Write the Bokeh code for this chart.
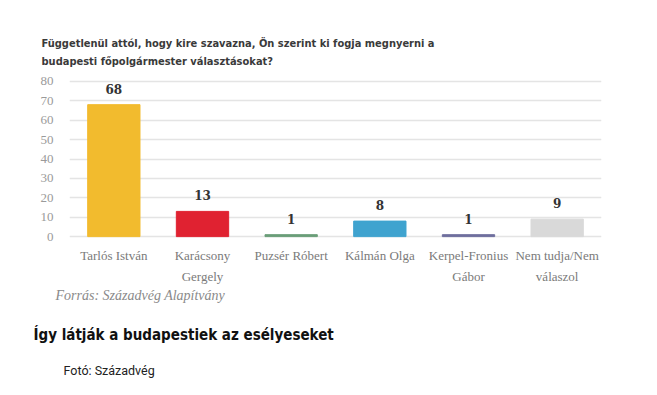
from bokeh.plotting import figure
from bokeh.models import ColumnDataSource, Range1d, FactorRange, Title
from bokeh.core.properties import value
from bokeh.embed import file_html
from bokeh.resources import INLINE

categories = ["Tarlós István", "Karácsony\nGergely", "Puzsér Róbert", "Kálmán Olga",
              "Kerpel-Fronius\nGábor", "Nem tudja/Nem\nválaszol"]
values = [68, 13, 1, 8, 1, 9]
colors = ["#F2BB2E", "#E02231", "#6A9E78", "#3FA3CF", "#6E6E9E", "#D9D9D9"]
y_ticks = [0, 10, 20, 30, 40, 50, 60, 70, 80]

title_line1 = "Függetlenül attól, hogy kire szavazna, Ön szerint ki fogja megnyerni a"
title_line2 = "budapesti főpolgármester választásokat?"
source_text = "Forrás: Századvég Alapítvány"
caption = "Így látják a budapestiek az esélyeseket"
photo = "Fotó: Századvég"

src = ColumnDataSource(dict(cat=categories, val=values, color=colors,
                            label=[str(v) for v in values]))

p = figure(x_range=FactorRange(*categories), y_range=Range1d(-2, 82),
           frame_width=532, frame_height=163,
           output_backend="svg", toolbar_location=None,
           min_border_left=69, min_border_right=40, min_border_top=77,
           min_border_bottom=139)
p.outline_line_color = None
p.background_fill_color = "white"
p.border_fill_color = "white"

p.vbar(x="cat", top="val", bottom=0, width=0.59, color="color", source=src)
p.text(x="cat", y="val", text="label", source=src, y_offset=-16,
       text_align="center", text_baseline="middle",
       text_font=value("DejaVu Serif"), text_font_style="bold",
       text_font_size="12px", text_color="#333333")

p.xgrid.grid_line_color = None
p.ygrid.grid_line_color = "#e4e4e4"
p.ygrid.grid_line_width = 1.5

p.yaxis.ticker = y_ticks
p.yaxis.axis_line_color = None
p.yaxis.major_tick_line_color = None
p.yaxis.minor_tick_line_color = None
p.yaxis.major_tick_out = 0
p.yaxis.major_label_standoff = 16
p.yaxis.major_label_text_font = "Liberation Serif"
p.yaxis.major_label_text_font_size = "13px"
p.yaxis.major_label_text_color = "#9a9a9a"

p.xaxis.axis_line_color = None
p.xaxis.major_tick_line_color = None
p.xaxis.major_tick_out = 0
p.xaxis.major_label_standoff = 7
p.xaxis.major_label_text_font = "Liberation Serif"
p.xaxis.major_label_text_font_size = "13px"
p.xaxis.major_label_text_color = "#7a7a7a"
p.xaxis.major_label_text_line_height = 1.45

cond = "Liberation Sans Narrow, DejaVu Sans Condensed, sans-serif"
p.add_layout(Title(text=title_line1 + "\n" + title_line2, align="left", offset=-28,
                   standoff=18, text_line_height=1.45,
                   text_font=cond, text_font_style="bold", text_font_size="11px",
                   text_color="#3a3a3a"), "above")

p.add_layout(Title(text=source_text, align="left", offset=-14, standoff=-4,
                   text_font="Liberation Serif", text_font_style="italic",
                   text_font_size="14px", text_color="#8a8a8a"), "below")
p.add_layout(Title(text=caption, align="left", offset=-36, standoff=46,
                   text_font=cond, text_font_style="bold", text_font_size="15px",
                   text_color="#111111"), "below")
p.add_layout(Title(text=photo, align="left", offset=-6, standoff=-12,
                   text_font="Roboto", text_font_style="normal",
                   text_font_size="12.5px", text_color="#222222"), "below")

open("out.html", "w").write(file_html(p, INLINE))
